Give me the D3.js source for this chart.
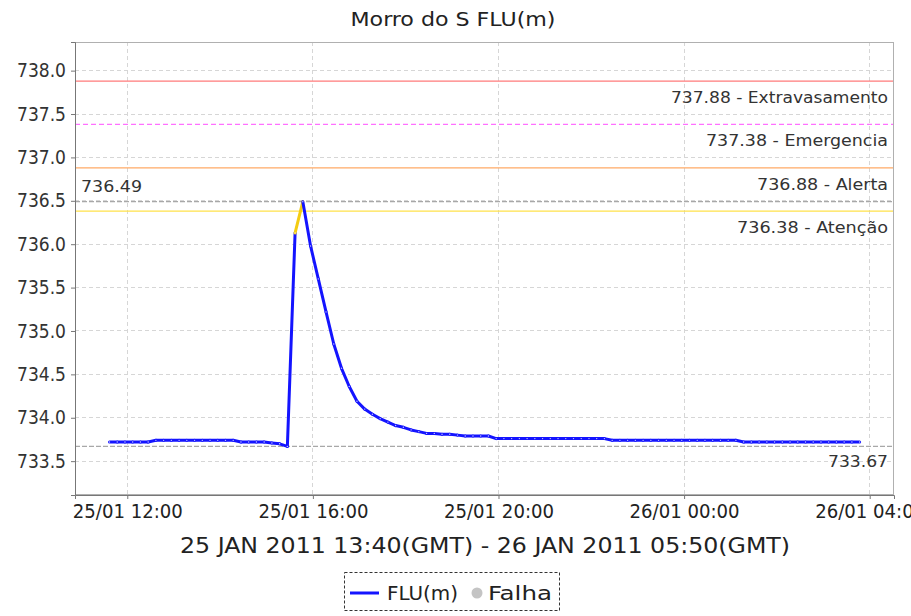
<!DOCTYPE html>
<html><head><meta charset="utf-8">
<script src="https://cdn.jsdelivr.net/npm/d3@7"></script>
<style>
body{margin:0;background:#fff;}
svg text{font-family:"DejaVu Sans Condensed","DejaVu Sans",sans-serif;}
</style>
</head><body>
<svg id="chart" width="911" height="616"></svg>
<script>
// ---------- data ----------
const chartTitle = "Morro do S FLU(m)";
const subTitle = "25 JAN 2011 13:40(GMT) - 26 JAN 2011 05:50(GMT)";
const seriesName = "FLU(m)";
const failName = "Falha";

const times = [
 "2011-01-25T11:37","2011-01-25T11:47","2011-01-25T11:57","2011-01-25T12:07","2011-01-25T12:17","2011-01-25T12:27",
 "2011-01-25T12:37","2011-01-25T12:47","2011-01-25T12:57","2011-01-25T13:07","2011-01-25T13:17","2011-01-25T13:27",
 "2011-01-25T13:37","2011-01-25T13:47","2011-01-25T13:57","2011-01-25T14:07","2011-01-25T14:17","2011-01-25T14:27",
 "2011-01-25T14:37","2011-01-25T14:47","2011-01-25T14:57","2011-01-25T15:07","2011-01-25T15:17","2011-01-25T15:27",
 "2011-01-25T15:37","2011-01-25T15:47","2011-01-25T15:57","2011-01-25T16:07","2011-01-25T16:17","2011-01-25T16:27",
 "2011-01-25T16:37","2011-01-25T16:47","2011-01-25T16:57","2011-01-25T17:07","2011-01-25T17:17","2011-01-25T17:27",
 "2011-01-25T17:37","2011-01-25T17:47","2011-01-25T17:57","2011-01-25T18:07","2011-01-25T18:17","2011-01-25T18:27",
 "2011-01-25T18:37","2011-01-25T18:47","2011-01-25T18:57","2011-01-25T19:07","2011-01-25T19:17","2011-01-25T19:27",
 "2011-01-25T19:37","2011-01-25T19:47","2011-01-25T19:57","2011-01-25T20:07","2011-01-25T20:17","2011-01-25T20:27",
 "2011-01-25T20:37","2011-01-25T20:47","2011-01-25T20:57","2011-01-25T21:07","2011-01-25T21:17","2011-01-25T21:27",
 "2011-01-25T21:37","2011-01-25T21:47","2011-01-25T21:57","2011-01-25T22:07","2011-01-25T22:17","2011-01-25T22:27",
 "2011-01-25T22:37","2011-01-25T22:47","2011-01-25T22:57","2011-01-25T23:07","2011-01-25T23:17","2011-01-25T23:27",
 "2011-01-25T23:37","2011-01-25T23:47","2011-01-25T23:57","2011-01-26T00:07","2011-01-26T00:17","2011-01-26T00:27",
 "2011-01-26T00:37","2011-01-26T00:47","2011-01-26T00:57","2011-01-26T01:07","2011-01-26T01:17","2011-01-26T01:27",
 "2011-01-26T01:37","2011-01-26T01:47","2011-01-26T01:57","2011-01-26T02:07","2011-01-26T02:17","2011-01-26T02:27",
 "2011-01-26T02:37","2011-01-26T02:47","2011-01-26T02:57","2011-01-26T03:07","2011-01-26T03:17","2011-01-26T03:27",
 "2011-01-26T03:37","2011-01-26T03:47"
];
const values = [
 733.72,733.72,733.72,733.72,733.72,733.72,
 733.74,733.74,733.74,733.74,733.74,733.74,
 733.74,733.74,733.74,733.74,733.74,733.72,
 733.72,733.72,733.72,733.71,733.70,733.67,
 736.13,736.49,735.98,735.60,735.22,734.85,
 734.57,734.36,734.19,734.10,734.04,733.99,
 733.95,733.91,733.89,733.86,733.84,733.82,
 733.82,733.81,733.81,733.80,733.79,733.79,
 733.79,733.79,733.76,733.76,733.76,733.76,
 733.76,733.76,733.76,733.76,733.76,733.76,
 733.76,733.76,733.76,733.76,733.76,733.74,
 733.74,733.74,733.74,733.74,733.74,733.74,
 733.74,733.74,733.74,733.74,733.74,733.74,
 733.74,733.74,733.74,733.74,733.72,733.72,
 733.72,733.72,733.72,733.72,733.72,733.72,
 733.72,733.72,733.72,733.72,733.72,733.72,
 733.72,733.72
];
const yTicks = [733.5,734.0,734.5,735.0,735.5,736.0,736.5,737.0,737.5,738.0];
const xTicks = ["2011-01-25T12:00","2011-01-25T16:00","2011-01-25T20:00","2011-01-26T00:00","2011-01-26T04:00"];
const xDomain = ["2011-01-25T10:52:24","2011-01-26T04:31:26"];
const yDomain = [733.11, 738.33];

const thresholdValues = [737.88, 737.38, 736.88, 736.38];
const thresholdNames  = ["Extravasamento", "Emergencia", "Alerta", "Atenção"];
const thresholdColors = ["#ff7b7b", "#ff70ff", "#ffaa66", "#ffe24a"];
const thresholdDashed = [false, true, false, false];
const thresholdLabelWidths = [217, 182, 131, 151];

// ---------- layout ----------
const L = 75, T = 42, R = 894, B = 495;
const svg = d3.select("#chart");
const parse = d3.utcParse("%Y-%m-%dT%H:%M");
const parseS = d3.utcParse("%Y-%m-%dT%H:%M:%S");
const data = times.map((t, i) => ({t: parse(t), v: values[i]}));

const x = d3.scaleUtc().domain(xDomain.map(parseS)).range([L, R]);
const y = d3.scaleLinear().domain(yDomain).range([B, T]);

svg.append("rect").attr("x",0).attr("y",0).attr("width",911).attr("height",616).attr("fill","#fff");

// clip
svg.append("clipPath").attr("id","clip").append("rect")
  .attr("x",L).attr("y",T).attr("width",R-L).attr("height",B-T);
const plot = svg.append("g").attr("clip-path","url(#clip)");

// grid
plot.selectAll("line.hg").data(yTicks).join("line")
  .attr("x1",L).attr("x2",R).attr("y1",d=>y(d)).attr("y2",d=>y(d))
  .attr("stroke","#d6d6d6").attr("stroke-width",1).attr("stroke-dasharray","4,3")
  .attr("shape-rendering","crispEdges");
plot.selectAll("line.vg").data(xTicks.map(parse)).join("line")
  .attr("x1",d=>x(d)).attr("x2",d=>x(d)).attr("y1",T).attr("y2",B)
  .attr("stroke","#d6d6d6").attr("stroke-width",1).attr("stroke-dasharray","4,3")
  .attr("shape-rendering","crispEdges");

// thresholds
thresholdValues.forEach((tv, i) => {
  plot.append("line").attr("x1",L).attr("x2",R).attr("y1",y(tv)).attr("y2",y(tv))
    .attr("stroke",thresholdColors[i]).attr("stroke-width",1.3)
    .attr("stroke-dasharray", thresholdDashed[i] ? "5,3" : null);
  svg.append("text").attr("x", 888).attr("y", y(tv) + 22)
    .attr("text-anchor","end").attr("font-size",16).attr("fill","#333")
    .attr("textLength", thresholdLabelWidths[i]).attr("lengthAdjust","spacingAndGlyphs")
    .text(d3.format(".2f")(tv) + " - " + thresholdNames[i]);
});

// max / min markers
const vMax = d3.max(values), vMin = d3.min(values);
[vMax, vMin].forEach(v => {
  plot.append("line").attr("x1",L).attr("x2",R).attr("y1",y(v)).attr("y2",y(v))
    .attr("stroke","#a8a8a8").attr("stroke-width",1.3).attr("stroke-dasharray","5,2");
});
svg.append("text").attr("x",81).attr("y",y(vMax)-10).attr("font-size",16).attr("fill","#333")
  .attr("textLength",61).attr("lengthAdjust","spacingAndGlyphs").text(d3.format(".2f")(vMax));
svg.append("text").attr("x",888).attr("y",y(vMin)+21).attr("text-anchor","end").attr("font-size",16).attr("fill","#333")
  .attr("textLength",60).attr("lengthAdjust","spacingAndGlyphs").text(d3.format(".2f")(vMin));

// series segments (coloured by level reached)
const segs = d3.pairs(data);
plot.selectAll("line.seg").data(segs).join("line")
  .attr("x1",d=>x(d[0].t)).attr("y1",d=>y(d[0].v))
  .attr("x2",d=>x(d[1].t)).attr("y2",d=>y(d[1].v))
  .attr("stroke",d=> d[1].v >= thresholdValues[3] ? "#f4cc12" : "#1414ff")
  .attr("stroke-width",3).attr("stroke-linecap","round");
plot.selectAll("circle.pt").data(data).join("circle")
  .attr("cx",d=>x(d.t)).attr("cy",d=>y(d.v)).attr("r",0.7)
  .attr("fill","#fff").attr("opacity",0.75);

// outline
svg.append("rect").attr("x",L+0.5).attr("y",T+0.5).attr("width",R-L-1).attr("height",B-T-1)
  .attr("fill","none").attr("stroke","#b0b0b0");

// axes
const yAxis = svg.append("g").attr("transform",`translate(${L},0)`)
  .call(d3.axisLeft(y).tickValues(yTicks).tickFormat(d3.format(".1f")).tickSize(4).tickPadding(5));
yAxis.select(".domain").attr("stroke","#777");
yAxis.selectAll(".tick line").attr("stroke","#777");
yAxis.selectAll(".tick text").attr("font-size",19).attr("fill","#333")
  .attr("font-family",'"DejaVu Sans Condensed","DejaVu Sans",sans-serif')
  .attr("textLength",49).attr("lengthAdjust","spacingAndGlyphs");

const xAxis = svg.append("g").attr("transform",`translate(0,${B})`)
  .call(d3.axisBottom(x).tickValues(xTicks.map(parse)).tickFormat(d3.utcFormat("%d/%m %H:%M")).tickSize(4).tickPadding(6));
xAxis.select(".domain").attr("stroke","#777");
xAxis.selectAll(".tick line").attr("stroke","#777");
xAxis.selectAll(".tick text").attr("font-size",19).attr("fill","#222")
  .attr("font-family",'"DejaVu Sans Condensed","DejaVu Sans",sans-serif')
  .attr("textLength",110).attr("lengthAdjust","spacingAndGlyphs");

// titles
svg.append("text").attr("x",453).attr("y",26).attr("text-anchor","middle")
  .attr("font-size",19).attr("fill","#222").attr("textLength",205).attr("lengthAdjust","spacingAndGlyphs")
  .text(chartTitle);
svg.append("text").attr("x",485).attr("y",553).attr("text-anchor","middle")
  .attr("font-size",22).attr("fill","#222").attr("textLength",610).attr("lengthAdjust","spacingAndGlyphs")
  .text(subTitle);

// legend
const lg = svg.append("g");
lg.append("rect").attr("x",344.5).attr("y",572.5).attr("width",215).attr("height",38)
  .attr("fill","#fff").attr("stroke","#333").attr("stroke-dasharray","3,2");
lg.append("line").attr("x1",350).attr("x2",379).attr("y1",593).attr("y2",593)
  .attr("stroke","#1414ff").attr("stroke-width",3);
lg.append("text").attr("x",387).attr("y",600).attr("font-size",20).attr("fill","#222")
  .attr("textLength",71).attr("lengthAdjust","spacingAndGlyphs").text(seriesName);
lg.append("circle").attr("cx",477).attr("cy",593).attr("r",5.5).attr("fill","#c4c4c4");
lg.append("text").attr("x",488).attr("y",600).attr("font-size",20).attr("fill","#222")
  .attr("textLength",64).attr("lengthAdjust","spacingAndGlyphs").text(failName);
</script>
</body></html>
